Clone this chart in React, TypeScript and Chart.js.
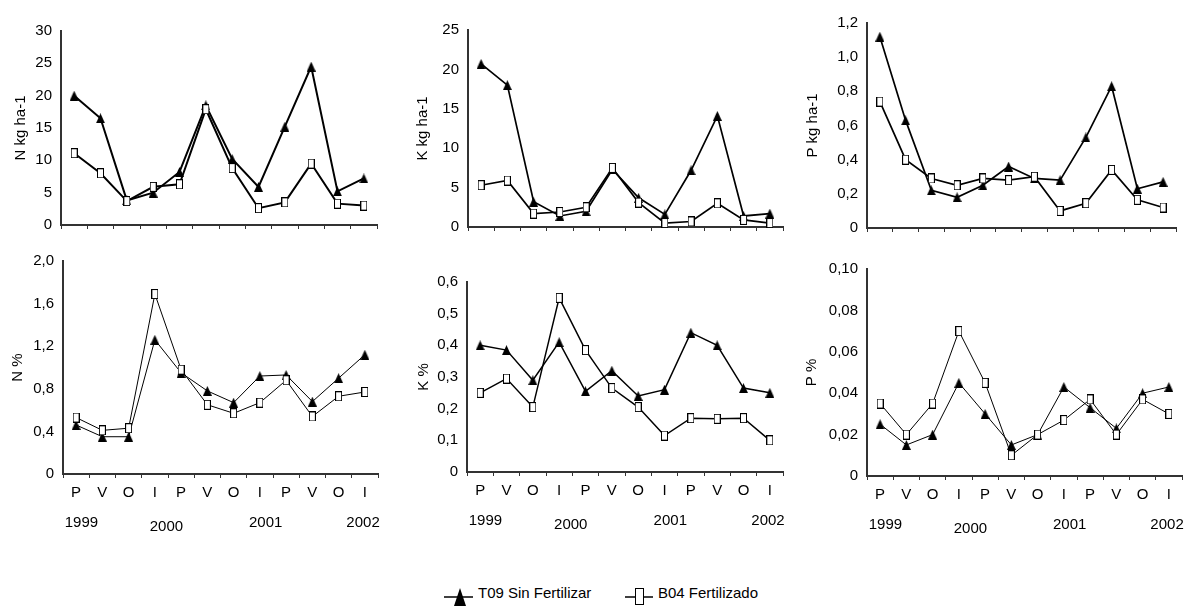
import React, { useEffect, useRef } from "react";
import { Chart, registerables } from "chart.js";

Chart.register(...registerables);

const FONT = "'Liberation Sans', Arial, Helvetica, sans-serif";

// ---- categories & labels ----
const SEASONS = ["P", "V", "O", "I", "P", "V", "O", "I", "P", "V", "O", "I"];
const YEARS = ["1999", "2000", "2001", "2002"];
const SERIES_NAMES = ["T09 Sin Fertilizar", "B04 Fertilizado"];

// ---- series values ----
const N_KG_T09 = [20.0, 16.5, 3.8, 5.0, 8.2, 18.5, 10.2, 5.9, 15.2, 24.5, 5.2, 7.2];
const N_KG_B04 = [11.1, 8.0, 3.7, 5.9, 6.3, 17.9, 8.8, 2.6, 3.5, 9.5, 3.3, 3.0];

const K_KG_T09 = [20.7, 18.0, 3.2, 1.4, 2.0, 7.3, 3.7, 1.6, 7.2, 14.1, 1.4, 1.7];
const K_KG_B04 = [5.3, 5.9, 1.7, 1.9, 2.5, 7.5, 3.1, 0.5, 0.7, 3.0, 0.9, 0.5];

const P_KG_T09 = [1.12, 0.63, 0.22, 0.18, 0.25, 0.36, 0.29, 0.28, 0.53, 0.83, 0.23, 0.27];
const P_KG_B04 = [0.74, 0.40, 0.29, 0.25, 0.29, 0.28, 0.30, 0.10, 0.145, 0.34, 0.165, 0.12];

const N_PCT_T09 = [0.46, 0.35, 0.35, 1.26, 0.95, 0.78, 0.67, 0.92, 0.93, 0.68, 0.9, 1.12];
const N_PCT_B04 = [0.53, 0.41, 0.43, 1.69, 0.98, 0.65, 0.57, 0.67, 0.88, 0.54, 0.73, 0.77];

const K_PCT_T09 = [0.40, 0.385, 0.29, 0.41, 0.255, 0.32, 0.24, 0.26, 0.44, 0.40, 0.265, 0.25];
const K_PCT_B04 = [0.25, 0.295, 0.205, 0.55, 0.385, 0.265, 0.205, 0.115, 0.17, 0.168, 0.17, 0.10];

const P_PCT_T09 = [0.025, 0.015, 0.02, 0.045, 0.03, 0.015, 0.02, 0.043, 0.033, 0.023, 0.040, 0.043];
const P_PCT_B04 = [0.035, 0.02, 0.035, 0.07, 0.045, 0.01, 0.02, 0.027, 0.037, 0.02, 0.037, 0.03];

// ---- layout (positions of year captions in category units, offsets in px) ----
const YEAR_POS = [0.2, 3.44, 7.22, 10.93];
const YEAR_DY = [49, 53, 49, 49];

type PanelCfg = {
  title: string;
  t09: number[];
  b04: number[];
  max: number;
  step: number;
  dec: number;
  left: number;
  right: number;
  top: number;
  bottom: number;
  titleX: number;
  lw: number;
  bottomRow: boolean;
};

const PANELS: PanelCfg[] = [
  { title: "N kg ha-1", t09: N_KG_T09, b04: N_KG_B04, max: 30, step: 5, dec: 0, left: 61, right: 377, top: 27, bottom: 229, titleX: 21, lw: 2, bottomRow: false },
  { title: "K kg ha-1", t09: K_KG_T09, b04: K_KG_B04, max: 25, step: 5, dec: 0, left: 468, right: 783, top: 26, bottom: 231, titleX: 423, lw: 1.7, bottomRow: false },
  { title: "P kg ha-1", t09: P_KG_T09, b04: P_KG_B04, max: 1.2, step: 0.2, dec: 1, left: 867, right: 1176, top: 19, bottom: 232, titleX: 813, lw: 1.7, bottomRow: false },
  { title: "N %", t09: N_PCT_T09, b04: N_PCT_B04, max: 2.0, step: 0.4, dec: 1, left: 63, right: 378, top: 257, bottom: 474, titleX: 18, lw: 1, bottomRow: true },
  { title: "K %", t09: K_PCT_T09, b04: K_PCT_B04, max: 0.6, step: 0.1, dec: 1, left: 467, right: 783, top: 278, bottom: 472, titleX: 424, lw: 1.5, bottomRow: true },
  { title: "P %", t09: P_PCT_T09, b04: P_PCT_B04, max: 0.1, step: 0.02, dec: 2, left: 867, right: 1182, top: 265, bottom: 476, titleX: 812, lw: 1, bottomRow: true },
];

function makeMarker(kind: "tri" | "sq", w: number, h: number): HTMLCanvasElement {
  const c = document.createElement("canvas");
  c.width = w;
  c.height = h;
  const g = c.getContext("2d")!;
  if (kind === "sq") {
    g.fillStyle = "#fff";
    g.fillRect(0, 0, w, h);
    g.strokeStyle = "#000";
    g.lineWidth = 1;
    g.strokeRect(0.5, 0.5, w - 1, h - 1);
  } else {
    g.fillStyle = "#000";
    g.beginPath();
    g.moveTo(w / 2, 0);
    g.lineTo(w, h);
    g.lineTo(0, h);
    g.closePath();
    g.fill();
  }
  return c;
}

const yearPlugin = {
  id: "yearLabels",
  afterDraw(chart: any, _args: any, opts: any) {
    if (!opts || !opts.show) return;
    const xs = chart.scales.x;
    const ctx = chart.ctx;
    ctx.save();
    ctx.font = `15px ${FONT}`;
    ctx.fillStyle = "#000";
    ctx.textAlign = "center";
    ctx.textBaseline = "middle";
    YEARS.forEach((y, i) => {
      ctx.fillText(y, xs.getPixelForValue(YEAR_POS[i]), chart.chartArea.bottom + YEAR_DY[i]);
    });
    ctx.restore();
  },
};

function fmt(v: number, dec: number): string {
  if (Math.abs(v) < 1e-12) return "0";
  return Number(v).toFixed(dec).replace(".", ",");
}

function ChartPanel({ p }: { p: PanelCfg }) {
  const ref = useRef<HTMLCanvasElement>(null);
  const PAD_TOP = 14;
  const PAD_RIGHT = 12;
  const xH = p.bottomRow ? 66 : 14;
  const cLeft = Math.round(p.titleX - 11);
  const cTop = p.top - PAD_TOP;
  const yW = p.left - cLeft;
  const cW = p.right - cLeft + PAD_RIGHT;
  const cH = p.bottom - cTop + xH;

  useEffect(() => {
    const canvas = ref.current;
    if (!canvas) return;
    const tri = makeMarker("tri", 9, 10);
    const sq = makeMarker("sq", 7, 10);
    const chart = new Chart(canvas, {
      type: "line",
      data: {
        labels: SEASONS,
        datasets: [
          {
            label: SERIES_NAMES[0],
            data: p.t09,
            borderColor: "#000",
            backgroundColor: "#000",
            borderWidth: p.lw,
            pointStyle: tri as any,
            pointRadius: 5,
            tension: 0,
            clip: false as any,
            order: 1,
          },
          {
            label: SERIES_NAMES[1],
            data: p.b04,
            borderColor: "#000",
            backgroundColor: "#fff",
            borderWidth: p.lw,
            pointStyle: sq as any,
            pointRadius: 5,
            tension: 0,
            clip: false as any,
            order: 0,
          },
        ],
      },
      options: {
        responsive: false,
        animation: false,
        devicePixelRatio: 1,
        layout: { padding: { top: PAD_TOP, right: PAD_RIGHT, left: 0, bottom: 0 } },
        plugins: {
          legend: { display: false },
          tooltip: { enabled: false },
          yearLabels: { show: p.bottomRow },
        } as any,
        scales: {
          x: {
            type: "category",
            offset: true,
            grid: {
              display: true,
              offset: true,
              drawOnChartArea: false,
              drawTicks: true,
              tickLength: 4,
              color: "#333",
              lineWidth: 1,
            },
            border: { display: true, color: "#333", width: 2 },
            ticks: {
              display: p.bottomRow,
              padding: 6,
              color: "#000",
              font: { size: 15, family: FONT },
              autoSkip: false,
              maxRotation: 0,
            },
            afterFit: (s: any) => {
              s.height = xH;
            },
          },
          y: {
            min: 0,
            max: p.max,
            grid: { display: false, drawTicks: false },
            border: { display: true, color: "#333", width: 2 },
            ticks: {
              stepSize: p.step,
              padding: 9,
              color: "#000",
              font: { size: 15, family: FONT },
              callback: (v: any) => fmt(Number(v), p.dec),
            },
            title: {
              display: true,
              text: p.title,
              color: "#000",
              font: { size: 15, family: FONT },
              padding: { top: 2, bottom: 0 },
            },
            afterFit: (s: any) => {
              s.width = yW;
            },
          },
        },
      } as any,
      plugins: [yearPlugin as any],
    });
    return () => chart.destroy();
  }, []);

  return (
    <canvas
      ref={ref}
      width={cW}
      height={cH}
      style={{ position: "absolute", left: cLeft, top: cTop, width: cW, height: cH }}
    />
  );
}

function Legend() {
  return (
    <svg
      width={1193}
      height={40}
      style={{ position: "absolute", left: 0, top: 570 }}
      viewBox="0 570 1193 40"
    >
      <line x1={444} y1={597} x2={473} y2={597} stroke="#000" strokeWidth={1.5} />
      <polygon points="460,588 466,606 454,606" fill="#000" />
      <text x={478} y={598} fontFamily={FONT} fontSize={15} fill="#000">
        {SERIES_NAMES[0]}
      </text>
      <line x1={625} y1={597} x2={653} y2={597} stroke="#000" strokeWidth={1.5} />
      <rect x={635.5} y={588.5} width={8} height={16} fill="#fff" stroke="#000" strokeWidth={1} />
      <text x={658} y={598} fontFamily={FONT} fontSize={15} fill="#000">
        {SERIES_NAMES[1]}
      </text>
    </svg>
  );
}

export default function App() {
  return (
    <div
      style={{
        position: "absolute",
        left: 0,
        top: 0,
        width: 1193,
        height: 606,
        overflow: "hidden",
        background: "#fff",
      }}
    >
      {PANELS.map((p, i) => (
        <ChartPanel key={i} p={p} />
      ))}
      <Legend />
    </div>
  );
}
